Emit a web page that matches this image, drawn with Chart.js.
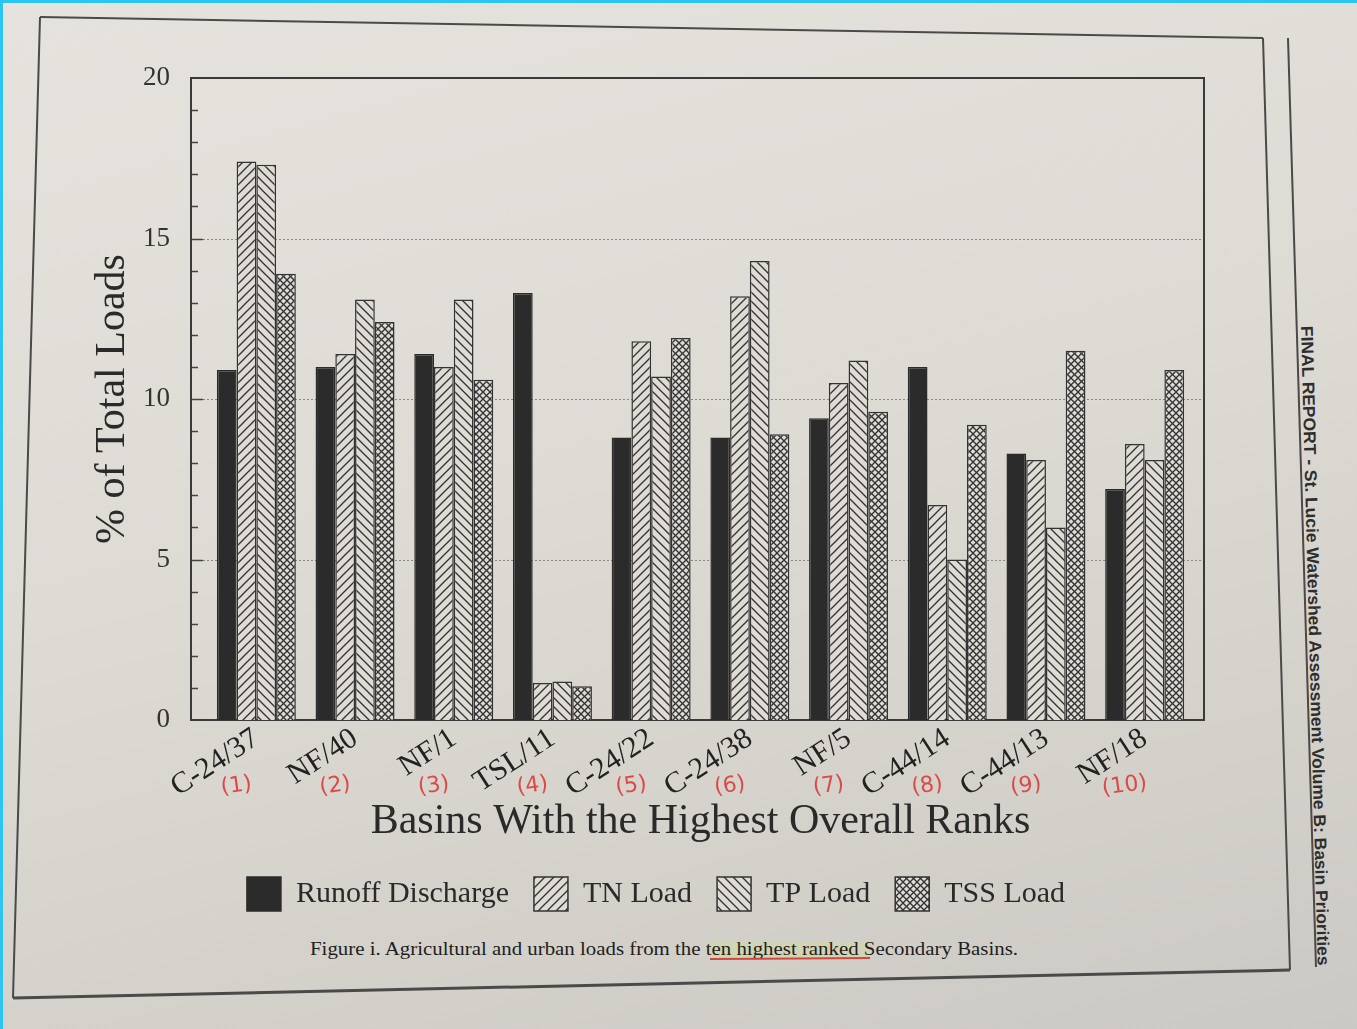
<!DOCTYPE html>
<html>
<head>
<meta charset="utf-8">
<title>Agricultural and urban loads — ten highest ranked Secondary Basins</title>
<script src="https://cdn.jsdelivr.net/npm/chart.js@4.4.1/dist/chart.umd.min.js"></script>
<style>
  html, body { margin: 0; padding: 0; }
  body {
    width: 1357px; height: 1029px; overflow: hidden; position: relative;
    background: linear-gradient(165deg, #e6e3de 0%, #dedbd5 45%, #d3d0ca 80%, #cbc9c4 100%);
  }
  #page, #chart { position: absolute; left: 0; top: 0; }
  .edge-top  { position: absolute; left: 0; top: 0; width: 1357px; height: 3px; background: #2cc5f3; }
  .edge-left { position: absolute; left: 0; top: 0; width: 3px; height: 1029px; background: #2cc5f3; }
</style>
</head>
<body>
<svg id="page" width="1357" height="1029">
  <!-- page frame around the figure -->
  <g fill="none" stroke="#4a4a4a" stroke-width="2">
    <line x1="40" y1="17" x2="1263" y2="38"/>
    <line x1="40" y1="17" x2="13" y2="998"/>
    <line x1="1263" y1="38" x2="1290" y2="970"/>
    <line x1="13" y1="998" x2="1290" y2="970" stroke-width="3"/>
    <line x1="1288" y1="38" x2="1316" y2="967"/>
  </g>
  <!-- running footer on the page edge -->
  <text transform="translate(1301,326) rotate(88.5)" textLength="640" lengthAdjust="spacingAndGlyphs"
        font-family="Liberation Sans Narrow, Liberation Sans, sans-serif" font-size="17" font-weight="bold" fill="#2e2e2e">FINAL REPORT - St. Lucie Watershed Assessment Volume B: Basin Priorities</text>
  <!-- figure caption -->
  <rect x="710" y="941" width="160" height="17" fill="#cfe08a" opacity="0.35"/>
  <text x="310" y="955" textLength="708" lengthAdjust="spacingAndGlyphs"
        font-family="Liberation Serif, serif" font-size="18" fill="#1e1e1e">Figure i.  Agricultural and urban loads from the ten highest ranked Secondary Basins.</text>
  <line x1="710" y1="959" x2="870" y2="958" stroke="#d9443c" stroke-width="2"/>
</svg>
<canvas id="chart" width="1357" height="1029"></canvas>
<div class="edge-top"></div>
<div class="edge-left"></div>

<script>
// Basins, in order of overall rank
const basins = ['C-24/37', 'NF/40', 'NF/1', 'TSL/11', 'C-24/22', 'C-24/38', 'NF/5', 'C-44/14', 'C-44/13', 'NF/18'];
const ranks  = ['(1)', '(2)', '(3)', '(4)', '(5)', '(6)', '(7)', '(8)', '(9)', '(10)'];

// % of total loads per basin
const runoffDischarge = [10.9, 11.0, 11.4, 13.3, 8.8, 8.8, 9.4, 11.0, 8.3, 7.2];
const tnLoad          = [17.4, 11.4, 11.0, 1.15, 11.8, 13.2, 10.5, 6.7, 8.1, 8.6];
const tpLoad          = [17.3, 13.1, 13.1, 1.2, 10.7, 14.3, 11.2, 5.0, 6.0, 8.1];
const tssLoad         = [13.9, 12.4, 10.6, 1.05, 11.9, 8.9, 9.6, 9.2, 11.5, 10.9];

// y axis labels
const yTicks = [0, 5, 10, 15, 20];

const SERIF = '"Liberation Serif", "Times New Roman", serif';
const INK = '#333333';
const PAPER = '#dfdcd6';

// Hatch fills: forward diagonal, back diagonal, and cross-hatch
function hatch(kind, size) {
  const c = document.createElement('canvas');
  c.width = size; c.height = size;
  const g = c.getContext('2d');
  g.fillStyle = PAPER; g.fillRect(0, 0, size, size);
  g.strokeStyle = INK; g.lineWidth = 1.3;
  const seg = (x1, y1, x2, y2) => { g.beginPath(); g.moveTo(x1, y1); g.lineTo(x2, y2); g.stroke(); };
  if (kind === 'fwd' || kind === 'cross') {
    seg(-1, size + 1, size + 1, -1); seg(-2, 2, 2, -2); seg(size - 2, size + 2, size + 2, size - 2);
  }
  if (kind === 'back' || kind === 'cross') {
    seg(-1, -1, size + 1, size + 1); seg(size - 2, -2, size + 2, 2); seg(-2, size - 2, 2, size + 2);
  }
  return g.createPattern(c, 'repeat');
}

// Plot frame, axis tick marks and dotted reference lines
const framePlugin = {
  id: 'frame',
  beforeDatasetsDraw(chart) {
    const { ctx, chartArea: a, scales: { y } } = chart;
    const left = a.left - 16, right = a.right + 10;
    ctx.save();
    ctx.strokeStyle = '#8c8a86'; ctx.lineWidth = 1; ctx.setLineDash([2, 2]);
    [5, 10, 15].forEach(v => {
      const py = Math.round(y.getPixelForValue(v)) + 0.5;
      ctx.beginPath(); ctx.moveTo(left, py); ctx.lineTo(right, py); ctx.stroke();
    });
    ctx.setLineDash([]);
    ctx.strokeStyle = '#444'; ctx.lineWidth = 1.5;
    for (let v = 1; v < 20; v++) {
      const py = Math.round(y.getPixelForValue(v)) + 0.5;
      ctx.beginPath(); ctx.moveTo(left, py); ctx.lineTo(left + (v % 5 === 0 ? 12 : 7), py); ctx.stroke();
    }
    ctx.lineWidth = 2; ctx.strokeStyle = '#3a3a3a';
    ctx.strokeRect(left, a.top, right - left, a.bottom - a.top);
    ctx.restore();
  }
};

// Rank numbers written under each basin label
const rankPlugin = {
  id: 'ranks',
  afterDraw(chart) {
    const { ctx, chartArea: a, scales: { x } } = chart;
    ctx.save();
    ctx.fillStyle = '#dc4a48';
    ctx.font = '22px "DejaVu Sans", sans-serif';
    ctx.textAlign = 'center'; ctx.textBaseline = 'middle';
    ranks.forEach((r, i) => {
      ctx.save();
      ctx.translate(x.getPixelForValue(i) - 20, a.bottom + 66);
      ctx.rotate(-0.14);
      ctx.fillText(r, 0, 0);
      ctx.restore();
    });
    ctx.restore();
  }
};

new Chart(document.getElementById('chart'), {
  type: 'bar',
  data: {
    labels: basins,
    datasets: [
      { label: 'Runoff Discharge', data: runoffDischarge, backgroundColor: '#2b2b2b', borderColor: '#2b2b2b' },
      { label: 'TN Load',  data: tnLoad,  backgroundColor: hatch('fwd', 9),   borderColor: INK },
      { label: 'TP Load',  data: tpLoad,  backgroundColor: hatch('back', 9),  borderColor: INK },
      { label: 'TSS Load', data: tssLoad, backgroundColor: hatch('cross', 7), borderColor: INK }
    ].map(d => Object.assign(d, { borderWidth: 1.5, categoryPercentage: 0.8, barPercentage: 1.0 }))
  },
  options: {
    responsive: false,
    animation: false,
    layout: { padding: { top: 78, right: 45, bottom: 108, left: 0 } },
    plugins: {
      tooltip: { enabled: false },
      legend: {
        position: 'bottom',
        labels: {
          boxWidth: 34, boxHeight: 34, padding: 25, color: '#2a2a2a',
          font: { family: SERIF, size: 30 }
        }
      }
    },
    scales: {
      x: {
        offset: true,
        grid: { display: false, drawTicks: false },
        border: { display: false },
        ticks: {
          autoSkip: false, minRotation: 33, maxRotation: 33, padding: 1,
          color: '#222', font: { family: SERIF, size: 30 }
        },
        title: {
          display: true, text: 'Basins With the Highest Overall Ranks', color: '#2a2a2a',
          font: { family: SERIF, size: 42 }, padding: { top: 0, bottom: 5 }
        },
        afterFit: s => { s.height = 132; }
      },
      y: {
        min: 0, max: 20,
        grid: { display: false },
        border: { display: false },
        afterBuildTicks: s => { s.ticks = yTicks.map(v => ({ value: v })); },
        ticks: { padding: 29, color: '#333', font: { family: SERIF, size: 27 } },
        title: {
          display: true, text: '% of Total Loads', color: '#2a2a2a',
          font: { family: SERIF, size: 42 }, padding: { top: 88, bottom: 0 }
        },
        afterFit: s => { s.width = 207; }
      },
      gutter: {
        position: 'right', display: true,
        grid: { display: false }, border: { display: false }, ticks: { display: false },
        afterFit: s => { s.width = 118; }
      }
    }
  },
  plugins: [framePlugin, rankPlugin]
});
</script>
</body>
</html>
